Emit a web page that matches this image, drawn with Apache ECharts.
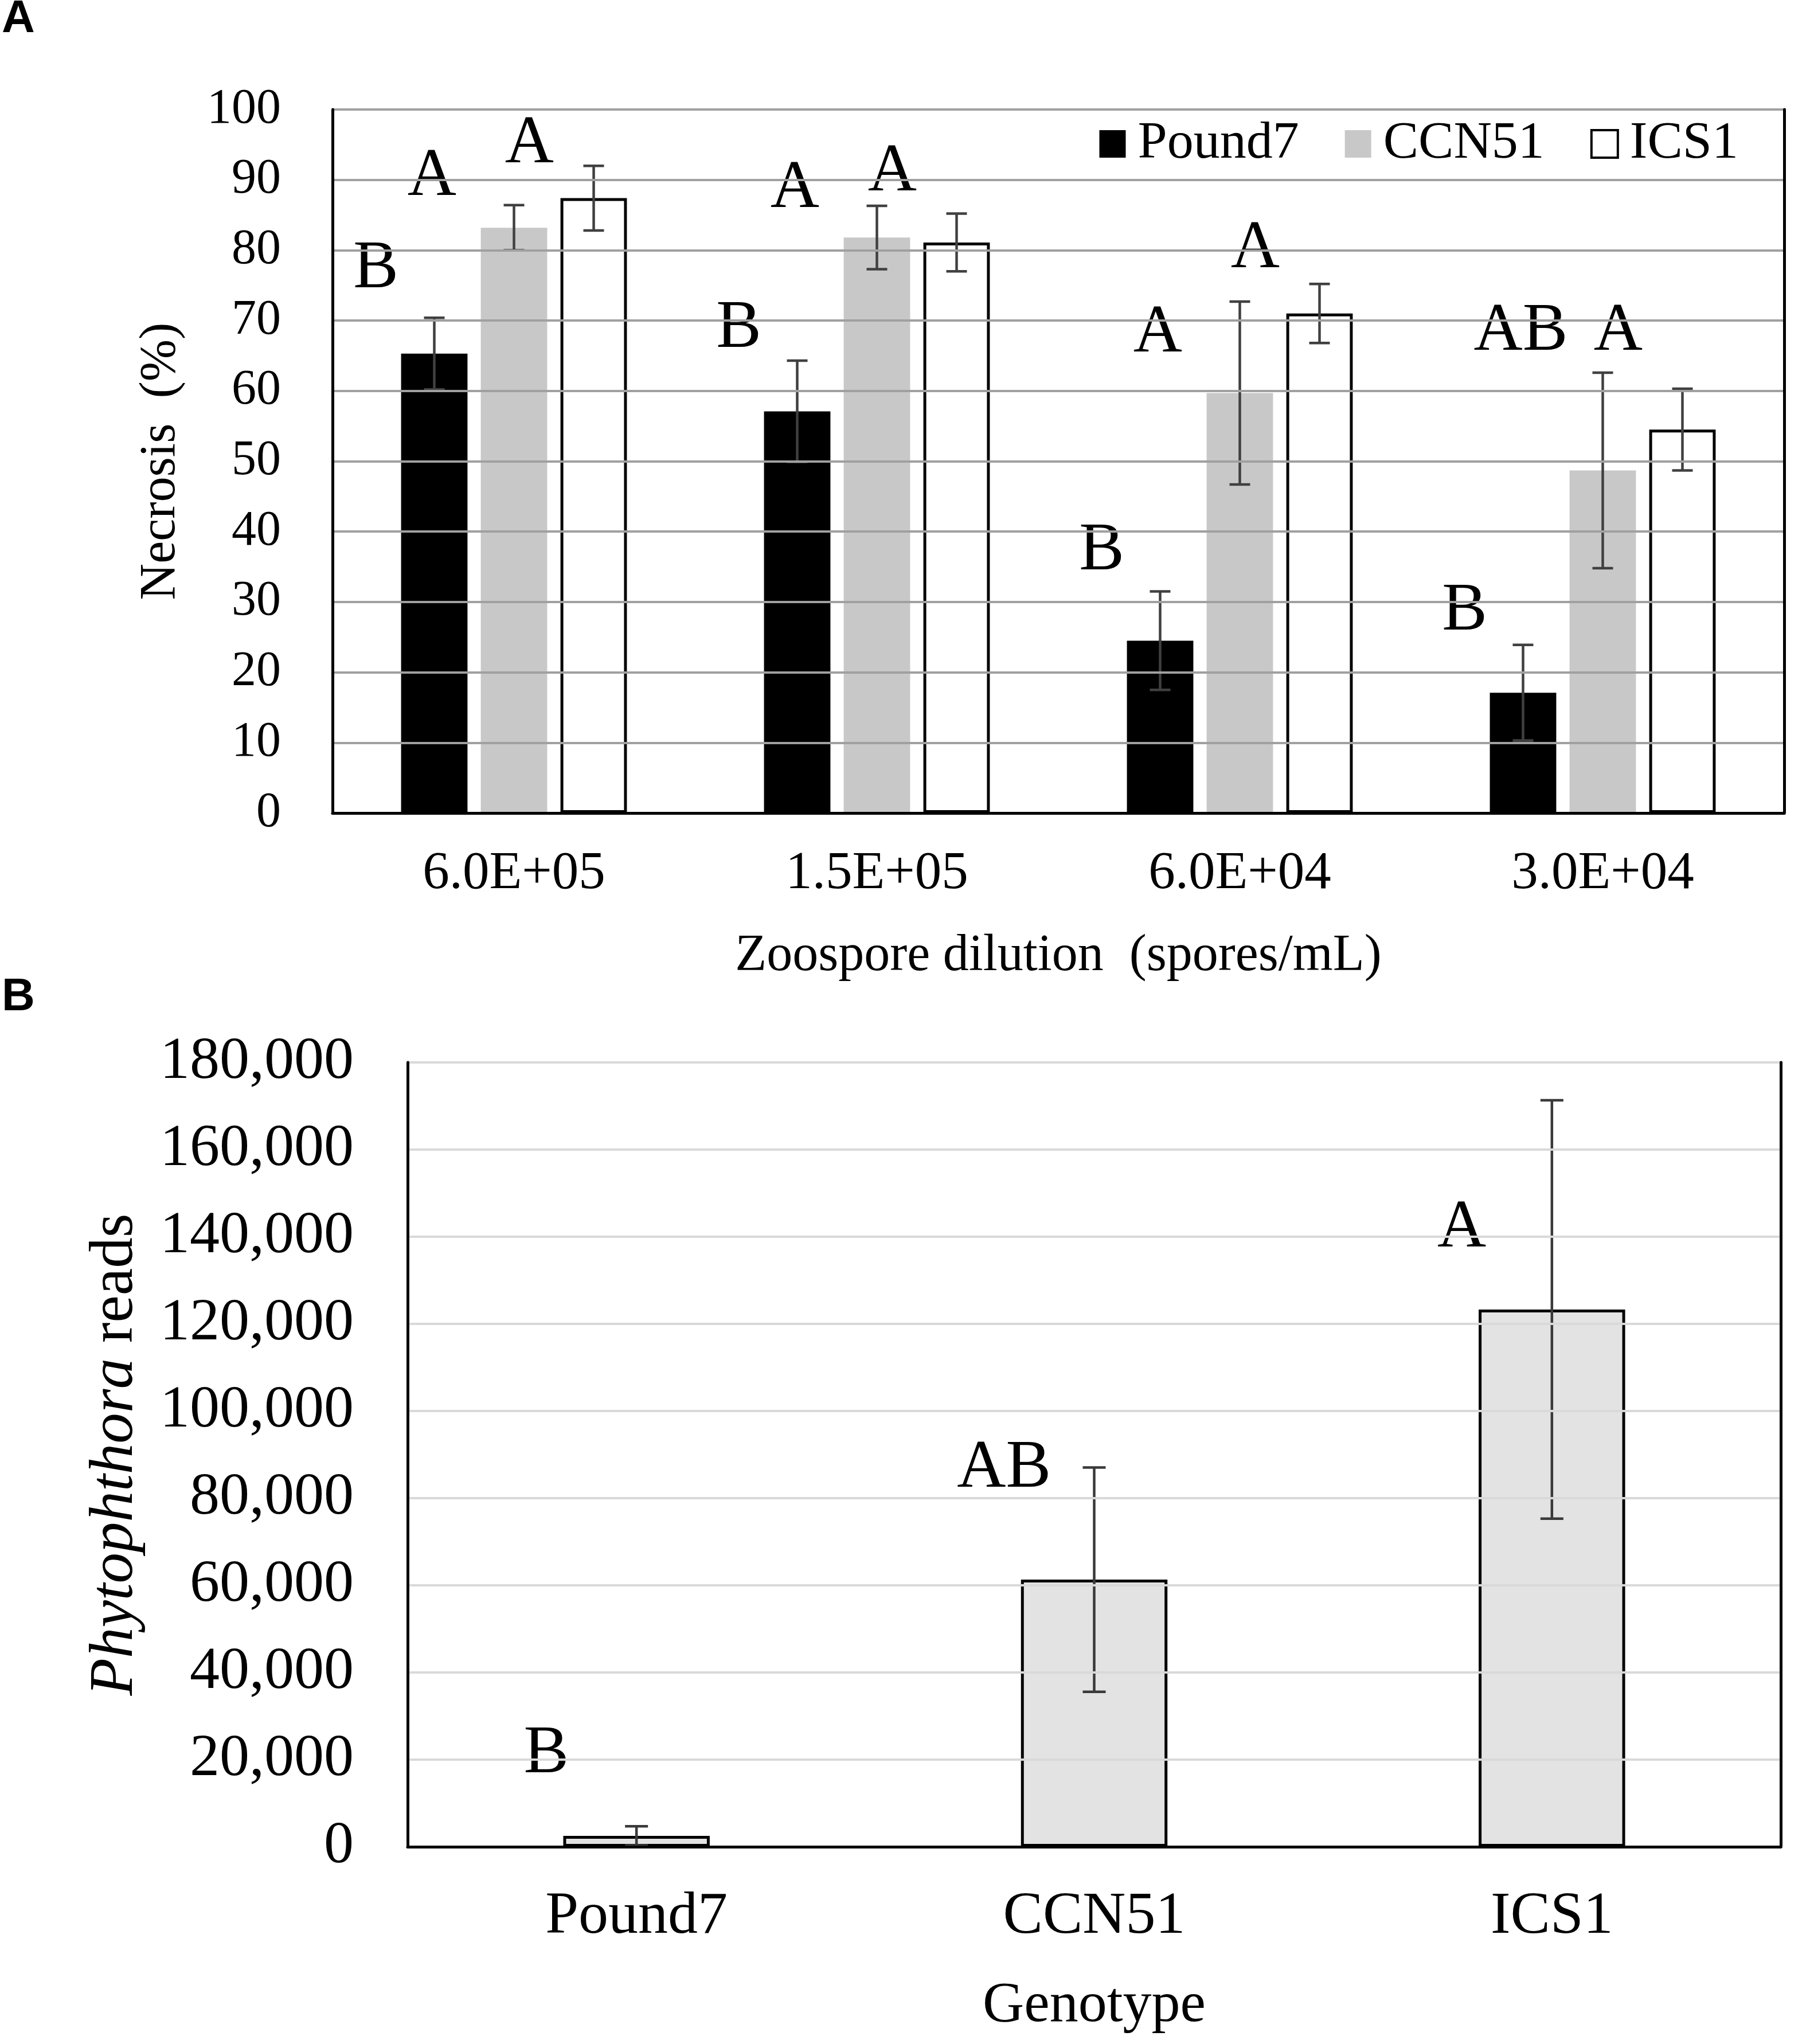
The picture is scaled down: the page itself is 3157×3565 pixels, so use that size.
<!DOCTYPE html>
<html>
<head>
<meta charset="utf-8">
<script src="https://cdn.jsdelivr.net/npm/echarts@6/dist/echarts.min.js"></script>
<style>
  html, body { margin: 0; padding: 0; background: #ffffff; }
  #chart { width: 3157px; height: 3565px; }
</style>
</head>
<body>
<div id="chart"></div>
<script>
// ---------------- DATA ----------------
// Panel A
const dilutions = ['6.0E+05', '1.5E+05', '6.0E+04', '3.0E+04'];
const genotypeNames = ['Pound7', 'CCN51', 'ICS1'];
const pound7Necrosis = [65.3, 57.1, 24.5, 17.1];
const pound7Error    = [5.1, 7.2, 7.0, 6.8];
const ccn51Necrosis  = [83.2, 81.8, 59.7, 48.7];
const ccn51Error     = [3.2, 4.5, 13.0, 13.9];
const ics1Necrosis   = [87.4, 81.1, 71.0, 54.5];
const ics1Error      = [4.6, 4.1, 4.2, 5.8];
const pound7Letters  = ['B', 'B', 'B', 'B'];
const pound7LetterAt = [77.3, 68.8, 37.2, 28.6];
const ccn51Letters   = ['A', 'A', 'A', 'AB'];
const ccn51LetterAt  = [90.4, 88.7, 68.1, 68.4];
const ics1Letters    = ['A', 'A', 'A', 'A'];
const ics1LetterAt   = [95.0, 91.0, 80.1, 68.4];
const necrosisTicks  = [0, 10, 20, 30, 40, 50, 60, 70, 80, 90, 100];

// Panel B
const genotypes      = ['Pound7', 'CCN51', 'ICS1'];
const phytoReads     = [2500, 61300, 123300];
const phytoReadsErr  = [2200, 25750, 48000];
const readsLetters   = ['B', 'AB', 'A'];
const readsLetterAt  = [21200, 86700, 141800];
const readsTicks     = [0, 20000, 40000, 60000, 80000, 100000, 120000, 140000, 160000, 180000];

// ---------------- STYLE ----------------
const SERIF = '"Liberation Serif", "Times New Roman", serif';
const SANS = '"Liberation Sans", Arial, sans-serif';
const BAR_W_A = 0.183, BAR_GAP_A = 0.20;      // fraction of band, fraction of bar width
const PITCH_A = BAR_W_A * (1 + BAR_GAP_A);
const BAR_W_B = 0.32;

const chart = echarts.init(document.getElementById('chart'), null, { renderer: 'canvas' });

function errorBarRenderer(offsetFrac, capHalf, color, lw) {
  return function (params, api) {
    const ci = api.value(0), v = api.value(1), e = api.value(2);
    const band = api.size([1, 0])[0];
    const x = api.coord([ci, v])[0] + offsetFrac * band;
    const yT = api.coord([ci, v + e])[1];
    const yB = api.coord([ci, v - e])[1];
    const st = { stroke: color, lineWidth: lw };
    return {
      type: 'group',
      children: [
        { type: 'line', shape: { x1: x, y1: yT, x2: x, y2: yB }, style: st },
        { type: 'line', shape: { x1: x - capHalf, y1: yT, x2: x + capHalf, y2: yT }, style: st },
        { type: 'line', shape: { x1: x - capHalf, y1: yB, x2: x + capHalf, y2: yB }, style: st }
      ]
    };
  };
}

function letterRenderer(offsetFrac, letters, fontSize) {
  return function (params, api) {
    const ci = api.value(0), v = api.value(1);
    const band = api.size([1, 0])[0];
    const p = api.coord([ci, v]);
    return {
      type: 'text',
      x: p[0] + offsetFrac * band,
      y: p[1],
      style: {
        text: letters[params.dataIndex],
        font: fontSize + 'px ' + SERIF,
        fill: '#000',
        align: 'center',
        verticalAlign: 'middle'
      }
    };
  };
}

const errData = (vals, errs) => vals.map((v, i) => [i, v, errs[i]]);
const letterData = (heights) => heights.map((h, i) => [i, h]);

const option = {
  backgroundColor: '#ffffff',
  animation: false,
  title: [
    { text: 'A', left: 3, top: -6, padding: 0,
      textStyle: { fontFamily: SANS, fontWeight: 'bold', fontSize: 80, color: '#000' } },
    { text: 'B', left: 3, top: 1700, padding: 0,
      textStyle: { fontFamily: SANS, fontWeight: 'bold', fontSize: 80, color: '#000' } }
  ],
  legend: {
    data: [
      { name: 'Pound7' },
      { name: 'CCN51' },
      { name: 'ICS1', itemStyle: { borderWidth: 4, borderColor: '#000', color: '#fff' } }
    ],
    right: 125,
    top: 205,
    icon: 'rect',
    itemWidth: 46,
    itemHeight: 48,
    itemGap: 80,
    padding: 0,
    textStyle: { fontFamily: SERIF, fontSize: 92, color: '#000', padding: [0, 0, 0, 16] }
  },
  grid: [
    { left: 580, top: 191, width: 2532, height: 1227, containLabel: false },
    { left: 711, top: 1853, width: 2395, height: 1368, containLabel: false }
  ],
  xAxis: [
    {
      type: 'category', gridIndex: 0, data: dilutions, position: 'bottom', z: 6,
      axisLine: { show: true, lineStyle: { color: '#a0a0a0', width: 5 } },
      axisTick: { show: false },
      axisLabel: { fontFamily: SERIF, fontSize: 93, color: '#000', margin: 60 },
      name: 'Zoospore dilution  (spores/mL)', nameLocation: 'middle', nameGap: 205,
      nameTextStyle: { fontFamily: SERIF, fontSize: 90, color: '#000' }
    },
    {
      type: 'category', gridIndex: 0, data: dilutions, position: 'top', z: 6,
      axisLine: { show: true, lineStyle: { color: '#000', width: 5 } },
      axisTick: { show: false }, axisLabel: { show: false }, splitLine: { show: false }
    },
    {
      type: 'category', gridIndex: 1, data: genotypes, position: 'bottom', z: 6,
      axisLine: { show: true, lineStyle: { color: '#d9d9d9', width: 5 } },
      axisTick: { show: false },
      axisLabel: { fontFamily: SERIF, fontSize: 104, color: '#000', margin: 71 },
      name: 'Genotype', nameLocation: 'middle', nameGap: 228,
      nameTextStyle: { fontFamily: SERIF, fontSize: 100, color: '#000' }
    },
    {
      type: 'category', gridIndex: 1, data: genotypes, position: 'top', z: 6,
      axisLine: { show: true, lineStyle: { color: '#000', width: 5 } },
      axisTick: { show: false }, axisLabel: { show: false }, splitLine: { show: false }
    }
  ],
  yAxis: [
    {
      type: 'value', gridIndex: 0, position: 'left', z: 6,
      min: necrosisTicks[0], max: necrosisTicks[necrosisTicks.length - 1],
      interval: necrosisTicks[1] - necrosisTicks[0],
      axisLine: { show: true, lineStyle: { color: '#000', width: 5 } },
      axisTick: { show: false },
      splitLine: { show: true, lineStyle: { color: '#a0a0a0', width: 4 } },
      axisLabel: { fontFamily: SERIF, fontSize: 86, color: '#000', margin: 90 },
      name: 'Necrosis  (%)', nameLocation: 'middle', nameGap: 255,
      nameTextStyle: { fontFamily: SERIF, fontSize: 88, color: '#000' }
    },
    {
      type: 'value', gridIndex: 0, position: 'right', z: 6,
      min: necrosisTicks[0], max: necrosisTicks[necrosisTicks.length - 1],
      axisLine: { show: true, lineStyle: { color: '#000', width: 5 } },
      axisTick: { show: false }, axisLabel: { show: false }, splitLine: { show: false }
    },
    {
      type: 'value', gridIndex: 1, position: 'left', z: 6,
      min: readsTicks[0], max: readsTicks[readsTicks.length - 1],
      interval: readsTicks[1] - readsTicks[0],
      axisLine: { show: true, lineStyle: { color: '#000', width: 5 } },
      axisTick: { show: false },
      splitLine: { show: true, lineStyle: { color: '#d9d9d9', width: 4 } },
      axisLabel: {
        fontFamily: SERIF, fontSize: 104, color: '#000', margin: 94,
        formatter: (v) => v.toLocaleString('en-US')
      },
      name: '{i|Phytophthora} reads', nameLocation: 'middle', nameGap: 456,
      nameTextStyle: {
        fontFamily: SERIF, fontSize: 107, color: '#000',
        rich: { i: { fontFamily: SERIF, fontSize: 107, fontStyle: 'italic', color: '#000' } }
      }
    },
    {
      type: 'value', gridIndex: 1, position: 'right', z: 6,
      min: readsTicks[0], max: readsTicks[readsTicks.length - 1],
      axisLine: { show: true, lineStyle: { color: '#000', width: 5 } },
      axisTick: { show: false }, axisLabel: { show: false }, splitLine: { show: false }
    }
  ],
  series: [
    {
      name: genotypeNames[0], type: 'bar', xAxisIndex: 0, yAxisIndex: 0,
      data: pound7Necrosis, barWidth: (BAR_W_A * 100) + '%', barGap: (BAR_GAP_A * 100) + '%',
      itemStyle: { color: '#000000' }
    },
    {
      name: genotypeNames[1], type: 'bar', xAxisIndex: 0, yAxisIndex: 0,
      data: ccn51Necrosis, barWidth: (BAR_W_A * 100) + '%', barGap: (BAR_GAP_A * 100) + '%',
      itemStyle: { color: '#c8c8c8' }
    },
    {
      name: genotypeNames[2], type: 'bar', xAxisIndex: 0, yAxisIndex: 0,
      data: ics1Necrosis, barWidth: (BAR_W_A * 100) + '%', barGap: (BAR_GAP_A * 100) + '%',
      itemStyle: { color: '#ffffff', borderColor: '#000000', borderWidth: 5 }
    },
    {
      name: 'Phytophthora reads', type: 'bar', xAxisIndex: 2, yAxisIndex: 2,
      data: phytoReads, barWidth: (BAR_W_B * 100) + '%',
      itemStyle: { color: '#e3e3e3', borderColor: '#000000', borderWidth: 5 }
    },
    // error bars panel A
    { type: 'custom', xAxisIndex: 0, yAxisIndex: 0, z: 4, silent: true,
      renderItem: errorBarRenderer(-PITCH_A, 18, '#404040', 4.5), data: errData(pound7Necrosis, pound7Error) },
    { type: 'custom', xAxisIndex: 0, yAxisIndex: 0, z: 4, silent: true,
      renderItem: errorBarRenderer(0, 18, '#404040', 4.5), data: errData(ccn51Necrosis, ccn51Error) },
    { type: 'custom', xAxisIndex: 0, yAxisIndex: 0, z: 4, silent: true,
      renderItem: errorBarRenderer(PITCH_A, 18, '#404040', 4.5), data: errData(ics1Necrosis, ics1Error) },
    // error bars panel B
    { type: 'custom', xAxisIndex: 2, yAxisIndex: 2, z: 4, silent: true,
      renderItem: errorBarRenderer(0, 20, '#3a3a3a', 4.5), data: errData(phytoReads, phytoReadsErr) },
    // letters panel A
    { type: 'custom', xAxisIndex: 0, yAxisIndex: 0, z: 5, silent: true, clip: false,
      renderItem: letterRenderer(-PITCH_A - 0.161, pound7Letters, 118), data: letterData(pound7LetterAt) },
    { type: 'custom', xAxisIndex: 0, yAxisIndex: 0, z: 5, silent: true, clip: false,
      renderItem: letterRenderer(-0.226, ccn51Letters, 118), data: letterData(ccn51LetterAt) },
    { type: 'custom', xAxisIndex: 0, yAxisIndex: 0, z: 5, silent: true, clip: false,
      renderItem: letterRenderer(PITCH_A - 0.177, ics1Letters, 118), data: letterData(ics1LetterAt) },
    // letters panel B
    { type: 'custom', xAxisIndex: 2, yAxisIndex: 2, z: 5, silent: true, clip: false,
      renderItem: letterRenderer(-0.197, readsLetters, 118), data: letterData(readsLetterAt) }
  ]
};

chart.setOption(option);
</script>
</body>
</html>
